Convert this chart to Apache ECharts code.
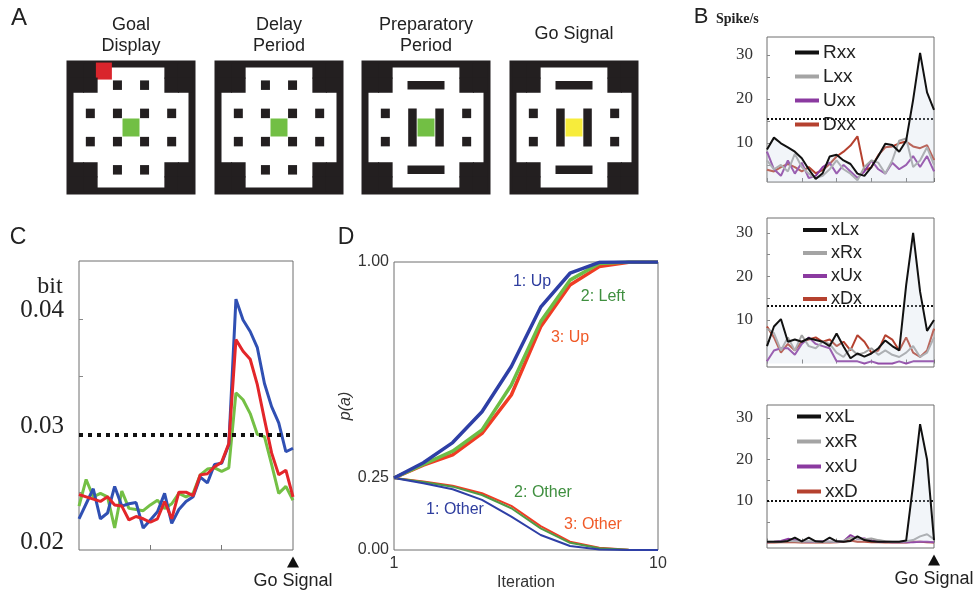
<!DOCTYPE html>
<html>
<head>
<meta charset="utf-8">
<script src="https://cdn.jsdelivr.net/npm/echarts@6/dist/echarts.min.js"></script>
<style>
html, body { margin: 0; padding: 0; background: #fff; }
#chart { width: 978px; height: 594px; }
</style>
</head>
<body>
<div id="chart"></div>
<script>
// ---- panel A: maze layouts ('#' wall, '.' floor, 'o' block, '-' '|' bars, R/G/Y cues)
const mazeGoal = [
    '##R....##',
    '##.o.o.##',
    '.........',
    '.o.o.o.o.',
    '....G....',
    '.o.o.o.o.',
    '.........',
    '##.o.o.##',
    '##.....##'
];
const mazeDelay = [
    '##.....##',
    '##.o.o.##',
    '.........',
    '.o.o.o.o.',
    '....G....',
    '.o.o.o.o.',
    '.........',
    '##.o.o.##',
    '##.....##'
];
const mazePrep = [
    '##.....##',
    '##..-..##',
    '.........',
    '.o.....o.',
    '...|G|...',
    '.o.....o.',
    '.........',
    '##..-..##',
    '##.....##'
];
const mazeGo = [
    '##.....##',
    '##..-..##',
    '.........',
    '.o.....o.',
    '...|Y|...',
    '.o.....o.',
    '.........',
    '##..-..##',
    '##.....##'
];
const mazeTitles = ['Goal\nDisplay', 'Delay\nPeriod', 'Preparatory\nPeriod', 'Go Signal'];
const mazeCols = ['0', '1', '2', '3', '4', '5', '6', '7', '8'];

// ---- panel B: spike rates
const bX = [0, 2, 4, 6, 8, 10, 12, 14, 16, 18, 20, 22, 24, 26, 28, 30, 32, 34, 36, 38, 40, 42, 44, 46, 48];
const rxx = [8.5, 11.2, 9.9, 9.0, 8.0, 6.5, 4.0, 1.8, 3.1, 6.9, 7.3, 6.0, 5.2, 3.0, 2.5, 4.5, 7.0, 9.8, 9.5, 8.0, 10.5, 19.8, 30.5, 21.5, 17.5];
const lxx = [6, 4, 5, 3.5, 7.5, 4.5, 3, 2, 2.5, 4, 6, 4, 3, 1.5, 4.5, 6, 5.5, 3, 6, 10.5, 11, 4.5, 6, 9, 5];
const uxx = [8, 4, 2.5, 6, 3, 5.5, 2, 2.5, 4.5, 5.5, 3, 5, 3.5, 2, 3.5, 6, 4, 3, 5.5, 4, 5, 7, 4.5, 7, 3.5];
const dxx = [3.9, 3.5, 4.5, 5.2, 4.5, 3.5, 4.5, 3.1, 3.8, 5.2, 6.9, 8, 9.4, 11.5, 3.8, 4.4, 7.2, 9, 9.2, 9.9, 10.3, 9.2, 8.8, 9.5, 6.1];

const xlx = [4, 8.5, 10.2, 5, 5.5, 5, 5.8, 5.4, 5, 4, 6.9, 3.9, 1.2, 2.3, 1.6, 2.3, 3.5, 5.3, 4, 3, 18, 30, 16.5, 7.5, 10];
const xrx = [8, 7, 3, 6, 3, 6.5, 4, 3.5, 5, 4.5, 2.5, 1.5, 3.5, 2, 2.5, 3.5, 2, 3, 2, 1.5, 2.5, 4, 1.5, 2.5, 6];
const xux = [0.5, 3, 3.5, 3.5, 2, 4.5, 6, 4.5, 4, 3.5, 0.5, 0.5, 0.5, 0.5, 0, 0.5, 0, 0, 0, 0.5, 0, 0.5, 0.5, 0.5, 0.5];
const xdx = [8.5, 6, 2.5, 4.5, 3, 5, 5.5, 6, 5, 5.5, 4, 5, 3, 6.5, 5, 2.5, 3, 6.5, 5.5, 3, 6, 2.5, 1.5, 3, 8];

const xxl = [0.2, 0.2, 0.2, 0.4, 1.2, 0.3, 1.2, 0.3, 0.2, 1.2, 0.3, 0.2, 0.4, 1.5, 0.6, 0.3, 0.2, 0.2, 0.2, 0.2, 0.5, 14, 28.5, 20, 0.6];
const xxr = [0.2, 0.2, 0.2, 0.3, 0.3, 0.2, 0.3, 0.2, 0.2, 0.2, 0.2, 0.4, 1.2, 1.0, 0.8, 1.0, 0.6, 0.3, 0.2, 0.2, 0.3, 0.6, 1.5, 2.0, 0.8];
const xxu = [0.1, 0.2, 0.4, 0.9, 0.6, 0.3, 0.2, 0.2, 0.3, 0.2, 0.2, 0.3, 1.8, 0.9, 1.0, 0.5, 0.2, 0.2, 0.1, 0.1, 0.1, 0.1, 0.2, 0.2, 0.1];
const xxd = [0, 0, 0.1, 0.1, 0.1, 0, 0, 0.1, 0, 0, 0.1, 0.2, 0.5, 0.2, 0.2, 0.1, 0.1, 0, 0, 0, 0, 0.2, 0.2, 0.1, 0];

const bThresholds = [15.5, 13.2, 10];
const bTicks = [5, 10, 15, 20, 25, 30];
const bLabels = [10, 20, 30];

// ---- panel C: information (bit)
const cX = [0, 1, 2, 3, 4, 5, 6, 7, 8, 9, 10, 11, 12, 13, 14, 15, 16, 17, 18, 19, 20, 21, 22, 23, 24, 25, 26, 27, 28, 29, 30];
const cBlue = [0.0227, 0.0240, 0.0253, 0.0227, 0.0232, 0.0255, 0.0238, 0.0240, 0.0241, 0.0219, 0.0226, 0.0233, 0.0249, 0.0223, 0.0235, 0.0242, 0.0246, 0.0263, 0.0258, 0.0274, 0.0275, 0.0291, 0.0417, 0.0399, 0.0389, 0.0375, 0.0344, 0.0324, 0.0310, 0.0285, 0.0288];
const cRed = [0.0248, 0.0246, 0.0244, 0.0242, 0.0246, 0.0239, 0.0238, 0.0226, 0.0229, 0.0227, 0.0224, 0.0227, 0.0242, 0.0227, 0.0250, 0.0250, 0.0247, 0.0265, 0.0266, 0.0272, 0.0276, 0.0292, 0.0382, 0.0372, 0.0365, 0.0343, 0.0313, 0.0284, 0.0265, 0.0269, 0.0246];
const cGreen = [0.0238, 0.0261, 0.0246, 0.0249, 0.0246, 0.0219, 0.0251, 0.0236, 0.0235, 0.0234, 0.0239, 0.0243, 0.0236, 0.0240, 0.0249, 0.0246, 0.0249, 0.0265, 0.0270, 0.0271, 0.0268, 0.0271, 0.0336, 0.0330, 0.0318, 0.0300, 0.0298, 0.0274, 0.0249, 0.0255, 0.0243];
const cThreshold = 0.0279;
const cTicks = [0.025, 0.03, 0.035, 0.04];
const cLabels = [0.02, 0.03, 0.04];

// ---- panel D: p(a) over iterations
const iterations = [1, 2, 3, 4, 5, 6, 7, 8, 9, 10];
const upBlue = [0.25, 0.303, 0.373, 0.480, 0.637, 0.843, 0.961, 0.999, 1.0, 1.0];
const upGreen = [0.25, 0.297, 0.343, 0.417, 0.573, 0.793, 0.937, 0.995, 1.0, 1.0];
const upRed = [0.25, 0.295, 0.330, 0.405, 0.538, 0.775, 0.920, 0.984, 0.999, 1.0];
const downBlue = [0.25, 0.232, 0.211, 0.174, 0.116, 0.052, 0.014, 0.002, 0, 0];
const downGreen = [0.25, 0.236, 0.220, 0.191, 0.145, 0.075, 0.025, 0.006, 0.001, 0];
const downRed = [0.25, 0.238, 0.223, 0.197, 0.153, 0.083, 0.029, 0.008, 0.001, 0];

const SANS = 'Liberation Sans';
const SERIF = 'Liberation Serif';
const INK = '#231f20';

const markStyle = {
    '#': { size: [14.6, 15.2], color: INK },
    'o': { size: [9, 9.5], color: INK },
    '-': { size: [37, 8.5], color: INK },
    '|': { size: [8.5, 38], color: INK },
    'R': { size: [16, 17], color: '#d9252c' },
    'G': { size: [17, 18], color: '#72bf44' },
    'Y': { size: [17, 18], color: '#f7ec3b' }
};

const pairs = (xs, ys) => xs.map((x, i) => [x, ys[i]]);

const mazeMarks = (rows) => {
    let marks = [];
    rows.forEach((row, r) => {
        row.split('').forEach((ch, c) => {
            if (markStyle[ch]) {
                marks.push({ value: [c, r], symbolSize: markStyle[ch].size, itemStyle: { color: markStyle[ch].color, opacity: 1 } });
            }
        });
    });
    return marks;
};

const txt = (x, y, text, size, family, color, extra) => ({
    type: 'text', x: x, y: y, silent: true,
    style: Object.assign({
        text: text, fontSize: size, fontFamily: family, fill: color || '#222',
        textAlign: 'center', textVerticalAlign: 'middle'
    }, extra || {})
});

let grid = [], xAxis = [], yAxis = [], series = [], graphic = [];

// panel A
const mazes = [mazeGoal, mazeDelay, mazePrep, mazeGo];
const mazeLeft = [70, 218, 365, 513];
mazes.forEach((m, i) => {
    grid.push({
        left: mazeLeft[i], top: 64, width: 122, height: 127,
        show: true, borderWidth: 7, borderColor: INK, backgroundColor: '#fff'
    });
    const hidden = { show: false };
    xAxis.push({ type: 'category', gridIndex: i, data: mazeCols, axisLine: hidden, axisTick: hidden, axisLabel: hidden, splitLine: hidden });
    yAxis.push({ type: 'category', gridIndex: i, data: mazeCols, inverse: true, axisLine: hidden, axisTick: hidden, axisLabel: hidden, splitLine: hidden });
    series.push({
        type: 'scatter', xAxisIndex: i, yAxisIndex: i, symbol: 'rect',
        data: mazeMarks(m), emphasis: { disabled: true }, silent: true
    });
    graphic.push(txt(mazeLeft[i] + 61, i === 3 ? 34 : 36, mazeTitles[i], 18, SANS, '#222', { lineHeight: 21 }));
});

// panel B
const bPanels = [
    { top: 37, height: 145, min: 1.1, max: 34.1, names: ['Rxx', 'Lxx', 'Uxx', 'Dxx'], data: [rxx, lxx, uxx, dxx], legendLeft: 790, legendTop: 38, font: 19, gap: 5 },
    { top: 218, height: 149, min: -0.8, max: 33.4, names: ['xLx', 'xRx', 'xUx', 'xDx'], data: [xlx, xrx, xux, xdx], legendLeft: 798, legendTop: 216, font: 18, gap: 5 },
    { top: 405, height: 143, min: -1.3, max: 33.1, names: ['xxL', 'xxR', 'xxU', 'xxD'], data: [xxl, xxr, xxu, xxd], legendLeft: 792, legendTop: 402, font: 19, gap: 6 }
];
const bColors = ['#111111', '#a4a4a4', '#8b3aa0', '#b5412f'];
let legend = [];
bPanels.forEach((p, k) => {
    const gi = 4 + k;
    grid.push({ left: 767, top: p.top, width: 167, height: p.height, show: true, borderColor: '#6f6f6f', borderWidth: 1 });
    xAxis.push({
        type: 'value', gridIndex: gi, min: 0, max: 48, interval: 10,
        axisLine: { show: false }, splitLine: { show: false }, axisLabel: { show: false },
        axisTick: { inside: true, length: 4, lineStyle: { color: '#777' } }
    });
    yAxis.push({
        type: 'value', gridIndex: gi, min: p.min, max: p.max,
        axisLine: { show: false }, splitLine: { show: false },
        axisTick: { inside: true, length: 3, customValues: bTicks, lineStyle: { color: '#888' } },
        axisLabel: { customValues: bLabels, fontFamily: SERIF, fontSize: 17, color: '#333', margin: 14 }
    });
    p.data.forEach((ys, j) => {
        let s = {
            type: 'line', name: p.names[j], xAxisIndex: gi, yAxisIndex: gi,
            data: pairs(bX, ys), showSymbol: false, z: 3 + (3 - j),
            lineStyle: { width: 2, color: bColors[j] }, itemStyle: { color: bColors[j] }
        };
        if (j === 0) {
            s.areaStyle = { color: 'rgba(200,214,230,0.35)' };
            s.markLine = {
                silent: true, symbol: 'none', label: { show: false },
                lineStyle: { type: [2, 2], color: '#111', width: 2 },
                data: [{ yAxis: bThresholds[k] }]
            };
        }
        if (j === 0 && k === 2) {
            s.markPoint = {
                symbol: 'triangle', symbolSize: [12, 11], symbolOffset: [0, 12],
                itemStyle: { color: '#111' },
                label: { show: true, position: 'bottom', distance: 5, formatter: 'Go Signal', color: '#222', fontSize: 18, fontFamily: SANS },
                data: [{ coord: [48, p.min] }]
            };
        }
        series.push(s);
    });
    legend.push({
        data: p.names, orient: 'vertical', left: p.legendLeft, top: p.legendTop,
        icon: 'rect', itemWidth: 24, itemHeight: 4, itemGap: p.gap,
        selectedMode: false,
        textStyle: { fontSize: p.font, fontFamily: SANS, color: '#222', padding: [0, 0, 0, -1] }
    });
});

// panel C
grid.push({ left: 79, top: 261, width: 214, height: 289, show: true, borderColor: '#6f6f6f', borderWidth: 1 });
xAxis.push({
    type: 'value', gridIndex: 7, min: 0, max: 30,
    axisLine: { show: false }, splitLine: { show: false }, axisLabel: { show: false },
    axisTick: { inside: true, length: 5, customValues: [10, 20], lineStyle: { color: '#777' } }
});
yAxis.push({
    type: 'value', gridIndex: 7, min: 0.02, max: 0.045,
    axisLine: { show: false }, splitLine: { show: false },
    axisTick: { inside: true, length: 4, customValues: cTicks, lineStyle: { color: '#888' } },
    axisLabel: {
        customValues: cLabels, formatter: (v) => v.toFixed(2), verticalAlign: 'bottom', lineHeight: 16,
        fontFamily: SERIF, fontSize: 25, color: '#222', margin: 15
    }
});
[['green', cGreen, '#74c045'], ['blue', cBlue, '#3050b3'], ['red', cRed, '#e3262a']].forEach((d, j) => {
    let s = {
        type: 'line', name: 'c-' + d[0], xAxisIndex: 7, yAxisIndex: 7,
        data: pairs(cX, d[1]), showSymbol: false,
        lineStyle: { width: 3, color: d[2] }
    };
    if (j === 2) {
        s.markLine = {
            silent: true, symbol: 'none', label: { show: false },
            lineStyle: { type: [4, 5], color: '#111', width: 4 },
            data: [{ yAxis: cThreshold }]
        };
        s.markPoint = {
            symbol: 'triangle', symbolSize: [12, 11], symbolOffset: [0, 12],
            itemStyle: { color: '#111' },
            label: { show: true, position: 'bottom', distance: 5, formatter: 'Go Signal', color: '#222', fontSize: 18, fontFamily: SANS },
            data: [{ coord: [30, 0.02] }]
        };
    }
    series.push(s);
});

// panel D
grid.push({ left: 394, top: 262, width: 264, height: 288, show: true, borderColor: '#6f6f6f', borderWidth: 1 });
xAxis.push({
    type: 'value', gridIndex: 8, min: 1, max: 10,
    axisLine: { show: false }, splitLine: { show: false }, axisTick: { show: false },
    axisLabel: { customValues: [1, 10], fontFamily: SANS, fontSize: 16, color: '#333', margin: 6 },
    name: 'Iteration', nameLocation: 'middle', nameGap: 25,
    nameTextStyle: { fontFamily: SANS, fontSize: 16, color: '#333' }
});
yAxis.push({
    type: 'value', gridIndex: 8, min: 0, max: 1,
    axisLine: { show: false }, splitLine: { show: false }, axisTick: { show: false },
    axisLabel: { customValues: [0, 0.25, 1], formatter: (v) => v.toFixed(2), fontFamily: SANS, fontSize: 16, color: '#333', margin: 5 },
    name: 'p(a)', nameLocation: 'middle', nameGap: 36,
    nameTextStyle: { fontFamily: SANS, fontSize: 16, fontStyle: 'italic', color: '#333' }
});
[
    [downRed, '#f03c24', 2], [downGreen, '#4f9a45', 2], [downBlue, '#2e3fa6', 2],
    [upRed, '#f03c24', 3.5], [upGreen, '#6cbd45', 3.5], [upBlue, '#2e3fa6', 3.5]
].forEach((d) => {
    series.push({
        type: 'line', xAxisIndex: 8, yAxisIndex: 8, data: pairs(iterations, d[0]),
        showSymbol: false, lineStyle: { width: d[2], color: d[1] }
    });
});

// labels
graphic.push(
    txt(19, 18, 'A', 24, SANS, '#222'),
    txt(701, 17, 'B', 22, SANS, '#222'),
    txt(716, 19, 'Spike/s', 14, SERIF, '#222', { textAlign: 'left', fontWeight: 'bold' }),
    txt(18, 238, 'C', 23, SANS, '#222'),
    txt(346, 238, 'D', 23, SANS, '#222'),
    txt(50, 287, 'bit', 24, SERIF, '#222'),
    txt(532, 282, '1: Up', 16, SANS, '#2e3d9e'),
    txt(603, 297, '2: Left', 16, SANS, '#3f8f3f'),
    txt(570, 338, '3: Up', 16, SANS, '#f05a28'),
    txt(543, 493, '2: Other', 16, SANS, '#3f8f3f'),
    txt(455, 510, '1: Other', 16, SANS, '#2e3d9e'),
    txt(593, 525, '3: Other', 16, SANS, '#f05a28')
);

let option = {
    animation: false,
    backgroundColor: '#fff',
    grid: grid,
    xAxis: xAxis,
    yAxis: yAxis,
    legend: legend,
    graphic: graphic,
    series: series
};

const chartInit = () => {
    let myChart = echarts.init(document.getElementById('chart'));
    option && myChart.setOption(option);
};
chartInit();
</script>
</body>
</html>
